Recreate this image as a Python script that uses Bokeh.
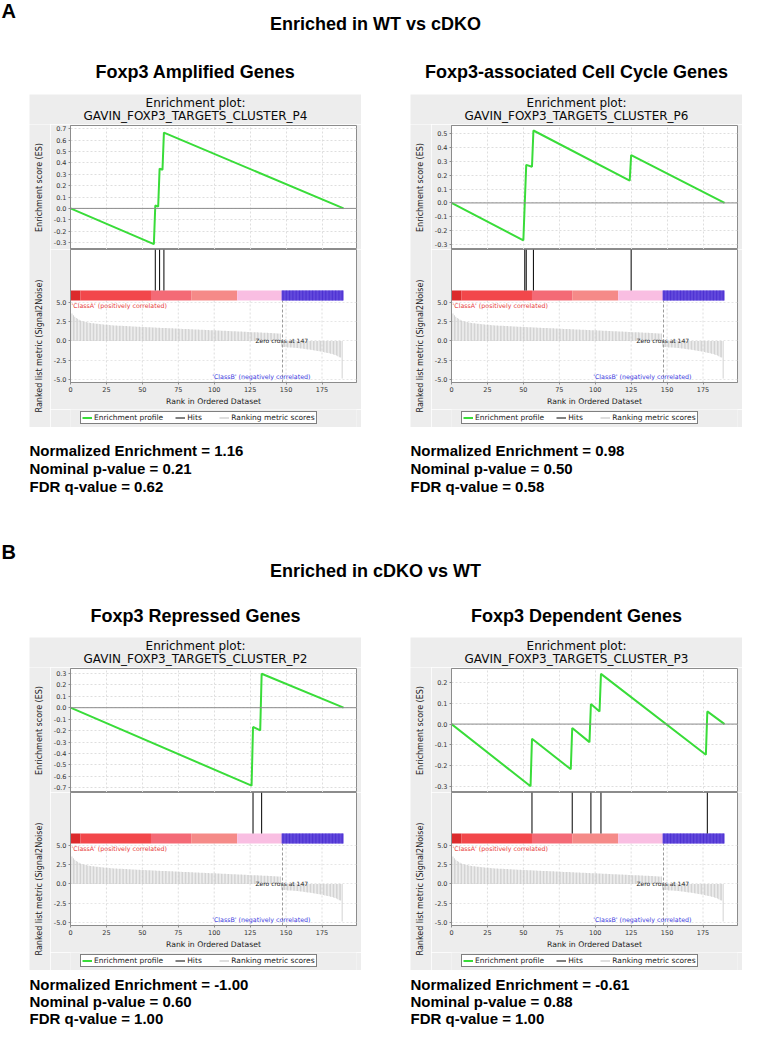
import math
from bokeh.plotting import figure
from bokeh.layouts import column, row
from bokeh.models import (Range1d, FixedTicker, NumeralTickFormatter, Legend, LegendItem,
                          Label, Span, Spacer)
from bokeh.embed import file_html
from bokeh.resources import INLINE

# ---------------------------------------------------------------- data
rank_metric = [
    3.85, 3.55, 3.30, 3.12, 2.97, 2.85, 2.74, 2.65, 2.58, 2.52,
    2.47, 2.43, 2.39, 2.35, 2.32, 2.29, 2.27, 2.25, 2.22, 2.20,
    2.18, 2.16, 2.14, 2.12, 2.10, 2.08, 2.07, 2.05, 2.03, 2.01,
    2.00, 1.99, 1.98, 1.97, 1.96, 1.95, 1.94, 1.93, 1.92, 1.91,
    1.90, 1.89, 1.88, 1.87, 1.86, 1.85, 1.84, 1.83, 1.82, 1.81,
    1.80, 1.79, 1.78, 1.77, 1.76, 1.76, 1.75, 1.74, 1.73, 1.72,
    1.71, 1.70, 1.69, 1.68, 1.68, 1.67, 1.66, 1.65, 1.64, 1.63,
    1.63, 1.62, 1.61, 1.60, 1.59, 1.58, 1.57, 1.56, 1.55, 1.54,
    1.54, 1.53, 1.52, 1.51, 1.50, 1.49, 1.48, 1.48, 1.47, 1.46,
    1.45, 1.44, 1.43, 1.43, 1.42, 1.41, 1.40, 1.39, 1.38, 1.38,
    1.37, 1.36, 1.35, 1.34, 1.33, 1.32, 1.31, 1.30, 1.30, 1.29,
    1.28, 1.27, 1.26, 1.25, 1.24, 1.23, 1.22, 1.21, 1.20, 1.20,
    1.19, 1.18, 1.17, 1.16, 1.15, 1.14, 1.13, 1.12, 1.12, 1.11,
    1.10, 1.09, 1.08, 1.07, 1.06, 1.06, 1.05, 1.04, 1.03, 1.02,
    1.01, 1.00, 0.99, 0.98, 0.97, 0.96, 0.95,
    -0.75, -0.78, -0.80, -0.82, -0.84, -0.85, -0.86, -0.87, -0.88, -0.90,
    -0.91, -0.93, -0.95, -0.97, -0.99, -1.01, -1.04, -1.07, -1.10, -1.13,
    -1.16, -1.19, -1.22, -1.25, -1.28, -1.31, -1.34, -1.37, -1.41, -1.45,
    -1.49, -1.53, -1.57, -1.61, -1.66, -1.71, -1.76, -1.82, -1.90, -2.00,
    -2.10, -2.15, -4.85,
]
gene_rank = list(range(len(rank_metric)))
zero_cross = 147
rank_ticks = [0, 25, 50, 75, 100, 125, 150, 175]
metric_ticks = [-5.0, -2.5, 0.0, 2.5, 5.0]

heat_edges = [0, 7, 56, 84, 116, 147, 190]
heat_colors = ["#dc2a2c", "#f2474b", "#f46a76", "#f58a88", "#f9bee2", "#7a64e6"]
neg_stripe_color = "#4d31d2"

p4_name = "GAVIN_FOXP3_TARGETS_CLUSTER_P4"
p4_es_rank = [0, 58, 59, 61, 62, 64, 65, 190]
p4_es = [0.0, -0.315, 0.025, 0.015, 0.35, 0.34, 0.667, 0.0]
p4_hits = [59, 62, 65]
p4_es_ticks = [-0.3, -0.2, -0.1, 0.0, 0.1, 0.2, 0.3, 0.4, 0.5, 0.6, 0.7]
p4_es_lim = [-0.362, 0.73]

p6_name = "GAVIN_FOXP3_TARGETS_CLUSTER_P6"
p6_es_rank = [0, 50, 51, 52, 56, 57, 124, 125, 190]
p6_es = [0.0, -0.269, 0.005, 0.274, 0.26, 0.521, 0.16, 0.344, 0.0]
p6_hits = [51, 52, 57, 125]
p6_es_ticks = [-0.3, -0.2, -0.1, 0.0, 0.1, 0.2, 0.3, 0.4, 0.5]
p6_es_lim = [-0.335, 0.557]

p2_name = "GAVIN_FOXP3_TARGETS_CLUSTER_P2"
p2_es_rank = [0, 126, 127, 132, 133, 190]
p2_es = [0.0, -0.68, -0.168, -0.198, 0.296, 0.0]
p2_hits = [127, 133]
p2_es_ticks = [-0.7, -0.6, -0.5, -0.4, -0.3, -0.2, -0.1, 0.0, 0.1, 0.2, 0.3]
p2_es_lim = [-0.74, 0.342]

p3_name = "GAVIN_FOXP3_TARGETS_CLUSTER_P3"
p3_es_rank = [0, 55, 56, 83, 84, 96, 97, 103, 104, 177, 178, 190]
p3_es = [0.0, -0.30, -0.071, -0.218, -0.019, -0.087, 0.097, 0.061, 0.242, -0.148, 0.061, 0.0]
p3_hits = [56, 84, 97, 104, 178]
p3_es_ticks = [-0.3, -0.2, -0.1, 0.0, 0.1, 0.2]
p3_es_lim = [-0.33, 0.268]

set_titles = ["Foxp3 Amplified Genes", "Foxp3-associated Cell Cycle Genes",
              "Foxp3 Repressed Genes", "Foxp3 Dependent Genes"]
section_titles = ["Enriched in WT vs cDKO", "Enriched in cDKO vs WT"]
section_letters = ["A", "B"]
nes_values = [1.16, 0.98, -1.00, -0.61]
nom_p_values = [0.21, 0.50, 0.60, 0.88]
fdr_q_values = [0.62, 0.58, 1.00, 1.00]

# ---------------------------------------------------------------- layout / style
PAGE_W = 747
PANEL_W = 332
SIDE_W = 21
BL, BR = 18, 5
TITLE_H, ES_PAD = 30, 1
ES_PX = 124
HITS_PX, CB_PX, RANK_PX = 41, 10, 82
LO_BOTTOM = 27
LEG_H = 18
X_END = 199
R0, R1 = -5.38, 5.22
GREY = "#ededed"
GREEN = "#39dc39"
GFONT = "DejaVu Sans"
HFONT = "Liberation Sans"


def style_axis(ax):
    ax.axis_line_color = "#8c8c8c"
    ax.major_tick_line_color = "#8c8c8c"
    ax.major_tick_out = 2
    ax.major_tick_in = 0
    ax.minor_tick_line_color = None
    ax.major_label_text_font = GFONT
    ax.major_label_text_font_size = "6.5px"
    ax.major_label_text_color = "#333333"
    ax.major_label_standoff = 2
    ax.axis_label_text_font = GFONT
    ax.axis_label_text_font_size = "7.7px"
    ax.axis_label_text_font_style = "normal"
    ax.axis_label_text_color = "#222222"


def blank_fig(width, height):
    f = figure(width=width, height=height, x_range=Range1d(0, width),
               y_range=Range1d(height, 0), toolbar_location=None, output_backend="svg",
               min_border=0)
    f.axis.visible = False
    f.grid.visible = False
    f.outline_line_color = None
    return f


def make_panel(name, es_rank, es_score, hits, es_lim, es_ticks):
    # title strip
    tf = blank_fig(PANEL_W, TITLE_H)
    tf.background_fill_color = GREY
    tf.border_fill_color = GREY
    tf.add_layout(Label(x=PANEL_W / 2, y=8, text="Enrichment plot:", text_align="center",
                        text_baseline="middle", text_font=GFONT, text_font_size="12px",
                        text_color="#0a0a0a"))
    tf.add_layout(Label(x=PANEL_W / 2, y=21.5, text=name, text_align="center",
                        text_baseline="middle", text_font=GFONT, text_font_size="12px",
                        text_color="#0a0a0a"))

    # side strip with the two rotated axis titles
    side_h = ES_PAD + ES_PX + HITS_PX + CB_PX + RANK_PX + LO_BOTTOM + LEG_H
    side_top = TITLE_H
    sf = blank_fig(SIDE_W, side_h)
    sf.background_fill_color = GREY
    sf.border_fill_color = GREY
    sf.add_layout(Label(x=10, y=ES_PAD + ES_PX / 2, angle=math.pi / 2,
                        text="Enrichment score (ES)", text_align="center",
                        text_baseline="middle", text_font=GFONT, text_font_size="8px",
                        text_color="#222222"))
    sf.add_layout(Label(x=10, y=251.5 - side_top, angle=math.pi / 2,
                        text="Ranked list metric (Signal2Noise)", text_align="center",
                        text_baseline="middle", text_font=GFONT, text_font_size="8px",
                        text_color="#222222"))

    pw = PANEL_W - SIDE_W
    x_rng = Range1d(0, X_END)
    es = figure(width=pw, height=ES_PAD + ES_PX, x_range=x_rng,
                y_range=Range1d(es_lim[0], es_lim[1]), x_axis_location=None,
                toolbar_location=None, output_backend="svg",
                min_border_left=BL, min_border_right=BR, min_border_top=ES_PAD,
                min_border_bottom=0)
    es.border_fill_color = GREY
    es.background_fill_color = "white"
    es.outline_line_color = "#8c8c8c"
    es.yaxis.ticker = FixedTicker(ticks=es_ticks)
    es.yaxis.formatter = NumeralTickFormatter(format="0.0")
    style_axis(es.yaxis[0])
    es.xgrid.ticker = FixedTicker(ticks=rank_ticks)
    es.ygrid.ticker = FixedTicker(ticks=es_ticks)
    es.grid.grid_line_color = "#dedede"
    es.grid.grid_line_dash = "2 2"
    es.add_layout(Span(location=0, dimension="width", line_color="#8c8c8c", line_width=1))
    es.line(es_rank, es_score, line_color=GREEN, line_width=2)

    top_ext = R1 + (R1 - R0) * (HITS_PX + CB_PX) / RANK_PX
    lo = figure(width=pw, height=RANK_PX + HITS_PX + CB_PX + LO_BOTTOM, x_range=x_rng,
                y_range=Range1d(R0, top_ext), toolbar_location=None, output_backend="svg",
                min_border_left=BL, min_border_right=BR, min_border_top=0,
                min_border_bottom=LO_BOTTOM)
    lo.extra_y_ranges = {"hits": Range1d(-RANK_PX, HITS_PX + CB_PX)}
    lo.border_fill_color = GREY
    lo.background_fill_color = "white"
    lo.outline_line_color = "#8c8c8c"
    lo.yaxis.ticker = FixedTicker(ticks=metric_ticks)
    lo.yaxis.formatter = NumeralTickFormatter(format="0.0")
    lo.xaxis.ticker = FixedTicker(ticks=rank_ticks)
    lo.xaxis.axis_label = "Rank in Ordered Dataset"
    style_axis(lo.yaxis[0])
    style_axis(lo.xaxis[0])
    lo.xaxis.axis_label_standoff = 2
    lo.xgrid.visible = False
    lo.ygrid.ticker = FixedTicker(ticks=metric_ticks)
    lo.ygrid.grid_line_color = "#e6e6e6"
    lo.ygrid.grid_line_dash = "2 2"
    lo.segment(x0=rank_ticks, y0=R0, x1=rank_ticks, y1=R1, line_color="#dedede",
               line_dash="2 2", line_width=1)
    lo.vbar(x=gene_rank, top=rank_metric, bottom=0, width=0.55,
            fill_color="#c8c8c8", line_color=None)
    lo.segment(x0=[zero_cross + 0.5], y0=[R0], x1=[zero_cross + 0.5], y1=[R1],
               line_color="#9a9a9a", line_dash="3 2", line_width=1)
    lo.quad(left=heat_edges[:-1], right=heat_edges[1:], bottom=0, top=CB_PX,
            fill_color=heat_colors, line_color=None, y_range_name="hits")
    neg = gene_rank[zero_cross:]
    lo.quad(left=neg, right=[g + 0.7 for g in neg], bottom=0, top=CB_PX,
            fill_color=neg_stripe_color, line_color=None, y_range_name="hits")
    lo.segment(x0=hits, y0=CB_PX, x1=hits, y1=CB_PX + HITS_PX,
               line_color="black", line_width=1, y_range_name="hits")
    lo.add_layout(Label(x=1, y=RANK_PX - 5, x_units="screen", y_units="screen",
                        text="'ClassA' (positively correlated)", text_align="left",
                        text_baseline="middle", text_font=GFONT, text_font_size="6.3px",
                        text_color="#e8403a"))
    lo.add_layout(Label(x=zero_cross, y=0, text="Zero cross at " + str(zero_cross),
                        text_align="center", text_baseline="middle", text_font=GFONT,
                        text_font_size="6px", text_color="#222222"))
    lo.add_layout(Label(x=zero_cross + 20, y=-4.6,
                        text="'ClassB' (negatively correlated)", text_align="right",
                        text_baseline="middle", text_font=GFONT, text_font_size="6.3px",
                        text_color="#3a3ae0"))

    # legend strip (its renderers hold the real series but lie outside its view)
    lf = figure(width=pw, height=LEG_H, x_range=Range1d(-2, -1), y_range=Range1d(0, 1),
                toolbar_location=None, output_backend="svg", min_border=0)
    lf.axis.visible = False
    lf.grid.visible = False
    lf.outline_line_color = None
    lf.background_fill_color = GREY
    lf.border_fill_color = GREY
    r_es = lf.line(es_rank, es_score, line_color=GREEN, line_width=2)
    r_hit = lf.segment(x0=hits, y0=0, x1=hits, y1=1, line_color="black", line_width=1)
    r_rank = lf.line(gene_rank, rank_metric, line_color="#bdbdbd", line_width=1)
    leg = Legend(items=[LegendItem(label="Enrichment profile", renderers=[r_es]),
                        LegendItem(label="Hits", renderers=[r_hit]),
                        LegendItem(label="Ranking metric scores", renderers=[r_rank])],
                 location=(10, 3), orientation="horizontal")
    leg.label_text_font = GFONT
    leg.label_text_font_size = "7.5px"
    leg.label_text_color = "#222222"
    leg.label_height = 7
    leg.glyph_height = 7
    leg.glyph_width = 10
    leg.label_standoff = 2
    leg.spacing = 12
    leg.padding = 1
    leg.margin = 0
    leg.border_line_color = "black"
    leg.border_line_width = 1
    leg.background_fill_color = "white"
    leg.background_fill_alpha = 1
    lf.add_layout(leg)

    body = row(sf, column(es, lo, lf, spacing=0), spacing=0)
    return column(tf, body, spacing=0)


def text_fig(top, height, items):
    f = blank_fig(PAGE_W, height)
    for txt, px, py, size, align in items:
        f.add_layout(Label(x=px - 8, y=py - top, text=txt, text_align=align,
                           text_baseline="middle", text_font=HFONT, text_font_style="bold",
                           text_font_size=size, text_color="black"))
    return f


def stats(i):
    return ["Normalized Enrichment = %.2f" % nes_values[i],
            "Nominal p-value = %.2f" % nom_p_values[i],
            "FDR q-value = %.2f" % fdr_q_values[i]]


LX, RX = 37, 418
LC, RC = 203, 584

head = text_fig(8, 94, [
    (section_letters[0], 9, 18, "20px", "left"),
    (section_titles[0], 383, 31, "18px", "center"),
    (set_titles[0], LC, 79, "18px", "center"),
    (set_titles[1], RC, 79, "18px", "center"),
])

mid_items = []
for k, yy in enumerate([458, 476, 494]):
    mid_items.append((stats(0)[k], LX, yy, "15px", "left"))
    mid_items.append((stats(1)[k], RX, yy, "15px", "left"))
mid_items += [
    (section_letters[1], 9, 559, "20px", "left"),
    (section_titles[1], 383, 578, "18px", "center"),
    (set_titles[2], LC, 623, "18px", "center"),
    (set_titles[3], RC, 623, "18px", "center"),
]
mid = text_fig(435, 210, mid_items)

bot_items = []
for k, yy in enumerate([992, 1009, 1026]):
    bot_items.append((stats(2)[k], LX, yy, "15px", "left"))
    bot_items.append((stats(3)[k], RX, yy, "15px", "left"))
bot = text_fig(978, 63, bot_items)

PH = TITLE_H + ES_PAD + ES_PX + RANK_PX + HITS_PX + CB_PX + LO_BOTTOM + LEG_H
row_a = row(Spacer(width=29, height=PH),
            make_panel(p4_name, p4_es_rank, p4_es, p4_hits, p4_es_lim, p4_es_ticks),
            Spacer(width=49, height=PH),
            make_panel(p6_name, p6_es_rank, p6_es, p6_hits, p6_es_lim, p6_es_ticks),
            spacing=0)
row_b = row(Spacer(width=29, height=PH),
            make_panel(p2_name, p2_es_rank, p2_es, p2_hits, p2_es_lim, p2_es_ticks),
            Spacer(width=49, height=PH),
            make_panel(p3_name, p3_es_rank, p3_es, p3_hits, p3_es_lim, p3_es_ticks),
            spacing=0)

page = column(head, row_a, mid, row_b, bot, spacing=0)
open("out.html", "w").write(file_html(page, INLINE))
